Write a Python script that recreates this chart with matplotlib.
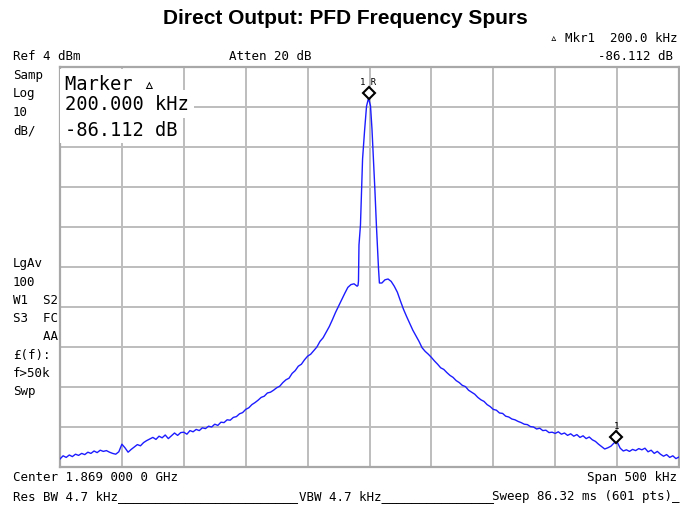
import numpy as np
import matplotlib
matplotlib.use("Agg")
import matplotlib.pyplot as plt
from matplotlib.transforms import offset_copy

# trace (offset from centre in kHz, level in dBm)
left_khz = np.arange(-250, -9.9, 2.5)
left_dbm = [-94.0, -93.2, -93.6, -93.0, -93.4, -92.8, -93.1, -92.6, -92.9, -92.3,
            -92.6, -92.0, -92.4, -91.8, -92.1, -91.9, -92.3, -92.6, -92.8, -92.2,
            -90.3, -91.2, -92.3, -91.6, -91.0, -90.4, -90.7, -89.9, -89.4, -89.0,
            -88.6, -89.1, -88.3, -88.7, -88.0, -88.9, -88.2, -87.5, -88.1, -87.4,
            -87.3, -87.8, -86.9, -87.2, -86.6, -86.9, -86.2, -86.4, -85.8, -86.0,
            -85.3, -85.6, -84.8, -84.9, -84.2, -84.3, -83.6, -83.4, -82.7, -82.4,
            -81.6, -81.2, -80.4, -79.9, -79.3, -78.6, -78.3, -77.5, -77.3, -76.8,
            -76.2, -75.8, -74.9, -74.2, -73.8, -72.6, -71.9, -70.8, -70.3, -69.2,
            -68.3, -67.8, -66.9, -66.0, -64.6, -63.7, -62.3, -60.9, -59.2, -57.4,
            -55.8, -54.2, -52.6, -51.1, -50.4, -50.2, -50.8]

peak_khz = [-9.3, -8.9, -8.5, -7.3, -5.6, -4.0, -2.4, -0.8, 0.8, 2.0, 3.2, 4.4, 5.6, 6.6, 7.3, 8.0]
peak_dbm = [-50.6, -49.5, -40.5, -35.5, -19.0, -12.0, -5.8, -3.8, -5.7, -11.5, -19.0, -27.0, -35.7, -42.0, -46.5, -50.0]

right_khz = np.arange(10, 250.1, 2.5)
right_dbm = [-50.0, -49.2, -49.0, -49.6, -50.8, -52.3, -54.5, -56.6, -58.4, -60.1,
             -61.8, -63.2, -64.6, -66.2, -67.1, -67.8, -68.6, -69.5, -70.3, -71.2,
             -71.6, -72.4, -73.1, -73.6, -74.4, -74.9, -75.6, -75.9, -76.8, -77.3,
             -77.8, -78.6, -79.2, -79.6, -80.4, -80.9, -81.6, -81.8, -82.5, -82.6,
             -83.3, -83.5, -84.0, -84.2, -84.6, -84.9, -85.3, -85.4, -85.9, -86.0,
             -86.5, -86.3, -86.9, -86.8, -87.4, -87.3, -87.6, -87.2, -87.8, -87.5,
             -88.1, -87.7, -88.3, -87.9, -88.6, -88.2, -88.9, -88.5, -89.2, -89.6,
             -90.3, -90.9, -91.5, -91.2, -90.8, -90.0, -89.7, -91.3, -92.0, -91.7,
             -92.1, -91.6, -91.9, -91.4, -91.7, -91.3, -92.2, -91.8, -92.6, -92.1,
             -92.8, -93.3, -92.9, -93.6, -93.2, -93.9, -93.5]

ref_marker = (-0.8, -3.8)
spur_marker = (199.5, -89.7)

W, H = 680, 510
fig = plt.figure(figsize=(W / 100, H / 100), dpi=100)
fig.patch.set_facecolor("white")


def px(x, y):
    return x / W, 1 - y / H


mono = "DejaVu Sans Mono"
fs = 9.0

# graticule
ax = fig.add_axes([60 / W, (H - 468) / H, 619 / W, 400 / H])
ax.set_xlim(-250, 250)
ax.set_ylim(-96, 4)
ax.set_xticks(np.arange(-250, 251, 50))
ax.set_yticks(np.arange(-96, 5, 10))
ax.tick_params(length=0, labelbottom=False, labelleft=False)
ax.grid(True, color="#bdbdbd", linewidth=1.4)
for s in ax.spines.values():
    s.set_color("#a8a8a8")
    s.set_linewidth(1.6)

freq = np.concatenate([left_khz, peak_khz, right_khz])
level = np.concatenate([left_dbm, peak_dbm, right_dbm])
ax.plot(freq, level, color="#1c1cff", linewidth=1.0, zorder=3)

up = offset_copy(ax.transData, fig=fig, y=5, units="dots")
for (mx, my), lab in [(ref_marker, "1 R"), (spur_marker, "1")]:
    ax.plot(mx, my, marker="D", markersize=6, markerfacecolor="white",
            markeredgecolor="black", markeredgewidth=1.5, transform=up, zorder=4)
    ax.annotate(lab, (mx, my), xytext=(0, 12), textcoords="offset points",
                ha="center", va="center", fontsize=6.5, family=mono)

# title
fig.text(*px(345, 18), "Direct Output: PFD Frequency Spurs", ha="center", va="center",
         fontsize=15, fontweight="bold", family="Liberation Sans")

# header
fig.text(*px(677, 39), "\u25b5 Mkr1  200.0 kHz", ha="right", va="center", fontsize=fs, family=mono)
fig.text(*px(673, 57), "-86.112 dB", ha="right", va="center", fontsize=fs, family=mono)
fig.text(*px(13, 57), "Ref 4 dBm", ha="left", va="center", fontsize=fs, family=mono)
fig.text(*px(229, 57), "Atten 20 dB", ha="left", va="center", fontsize=fs, family=mono)

# left annotation column
left_col = [(76, "Samp"), (94, "Log"), (113, "10"), (131, "dB/"),
            (263, "LgAv"), (282, "100"), (300, "W1  S2"), (318, "S3  FC"),
            (337, "    AA"), (356, "\u00a3(f):"), (374, "f>50k"), (392, "Swp")]
for y, t in left_col:
    fig.text(*px(13, y), t, ha="left", va="center", fontsize=fs, family=mono)

# marker readout box
box = dict(facecolor="white", edgecolor="none", pad=3.5)
for y, t in [(84, "Marker \u25b5"), (105, "200.000 kHz"), (130, "-86.112 dB")]:
    fig.text(*px(65, y), t, ha="left", va="center", fontsize=13.5, family=mono,
             bbox=box, zorder=5)

# footer
fig.text(*px(13, 478), "Center 1.869 000 0 GHz", ha="left", va="center", fontsize=fs, family=mono)
fig.text(*px(677, 478), "Span 500 kHz", ha="right", va="center", fontsize=fs, family=mono)
fig.text(*px(13, 497), "Res BW 4.7 kHz" + "_" * 24, ha="left", va="center", fontsize=fs, family=mono)
fig.text(*px(299, 497), "VBW 4.7 kHz" + "_" * 15, ha="left", va="center", fontsize=fs, family=mono)
fig.text(*px(680, 497), "Sweep 86.32 ms (601 pts)_", ha="right", va="center", fontsize=fs, family=mono)

fig.savefig("out.png", dpi=100, facecolor="white")
